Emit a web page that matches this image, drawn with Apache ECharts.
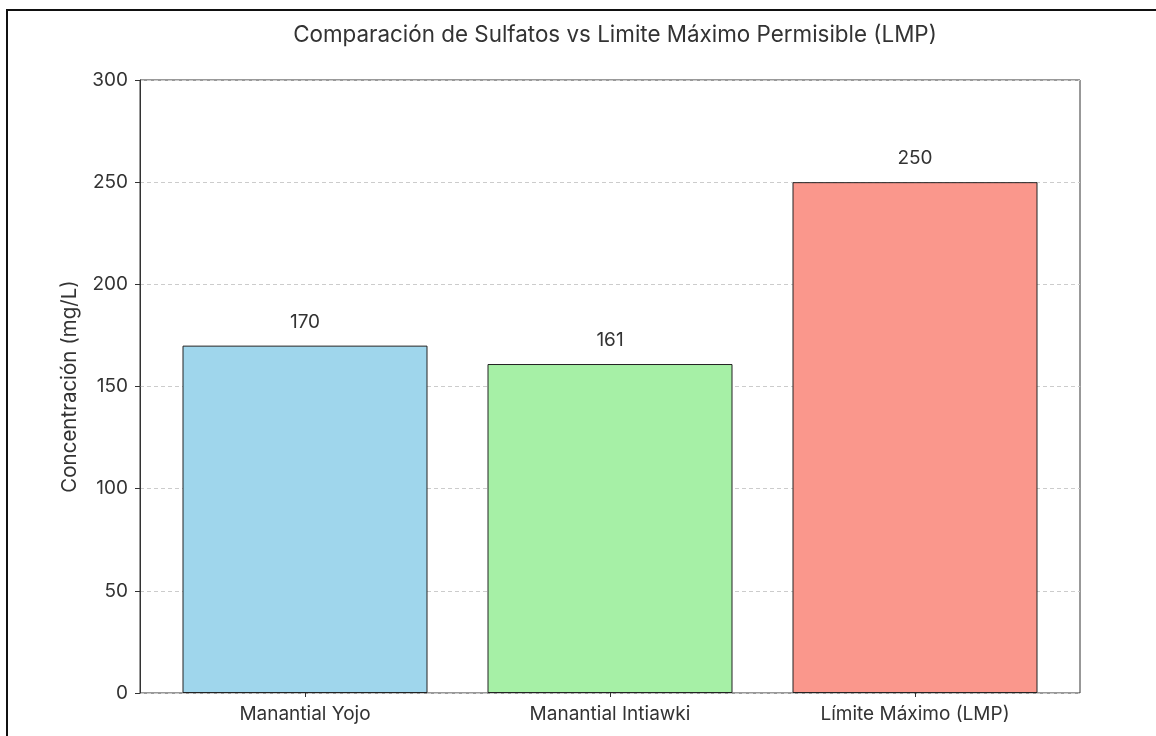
<!DOCTYPE html>
<html><head><meta charset="utf-8">
<script src="https://cdn.jsdelivr.net/npm/echarts@6/dist/echarts.min.js"></script>
<style>html,body{margin:0;padding:0;background:#fff}#c{width:1156px;height:736px}</style>
</head><body><div id="c"></div>
<script>
const categories = ['Manantial Yojo', 'Manantial Intiawki', 'Límite Máximo (LMP)'];
const values = [170, 161, 250];
const barColors = ['#9FD6EC', '#A6F0A6', '#FA978C'];
const yTicks = [0, 50, 100, 150, 200, 250, 300];
const titleText = 'Comparación de Sulfatos vs Limite Máximo Permisible (LMP)';
const yName = 'Concentración (mg/L)';

const FONT = 'Inter';
const chart = echarts.init(document.getElementById('c'), null, {renderer: 'canvas'});
chart.setOption({
  backgroundColor: '#fff',
  animation: false,
  textStyle: {fontFamily: FONT},
  title: {text: titleText, left: 610, top: 19, textAlign: 'center',
    textStyle: {fontFamily: FONT, fontSize: 22.4, fontWeight: 'normal', color: '#333'}},
  graphic: [{type: 'rect', shape: {x: 7, y: 10, width: 1170, height: 760},
    style: {fill: 'none', stroke: '#111', lineWidth: 2}, z: 100}],
  grid: [
    {left: 140, right: 76, top: 80, bottom: 43, show: true, borderColor: '#333', borderWidth: 1, backgroundColor: 'transparent'},
    {left: 152.5, right: 88.5, top: 80, bottom: 43}
  ],
  xAxis: [
    {gridIndex: 0, type: 'value', min: 0, max: 1, show: false},
    {gridIndex: 1, type: 'category', data: categories, boundaryGap: true,
      axisLine: {show: false},
      axisTick: {show: true, alignWithLabel: true, length: 4, lineStyle: {color: '#333'}},
      axisLabel: {fontFamily: FONT, fontSize: 19, color: '#333', margin: 12}}
  ],
  yAxis: [
    {gridIndex: 0, type: 'value', min: yTicks[0], max: yTicks[yTicks.length - 1], interval: 50,
      name: yName, nameLocation: 'middle', nameGap: 60,
      nameTextStyle: {fontFamily: FONT, fontSize: 20.5, color: '#333'},
      axisLine: {show: true, lineStyle: {color: '#333'}},
      axisTick: {show: true, length: 5, lineStyle: {color: '#333'}},
      axisLabel: {fontFamily: FONT, fontSize: 19, color: '#333', margin: 12},
      splitLine: {show: true, lineStyle: {color: '#cccccc', type: [4, 3], width: 1}}},
    {gridIndex: 1, type: 'value', min: yTicks[0], max: yTicks[yTicks.length - 1], show: false, splitLine: {show: false}}
  ],
  series: [{
    type: 'bar', xAxisIndex: 1, yAxisIndex: 1,
    barWidth: 245,
    data: values.map((v, i) => ({value: v, itemStyle: {color: barColors[i]}})),
    itemStyle: {borderColor: '#222', borderWidth: 1},
    label: {show: true, position: 'top', distance: 14, fontFamily: FONT, fontSize: 19, color: '#333'}
  }]
});
</script></body></html>
